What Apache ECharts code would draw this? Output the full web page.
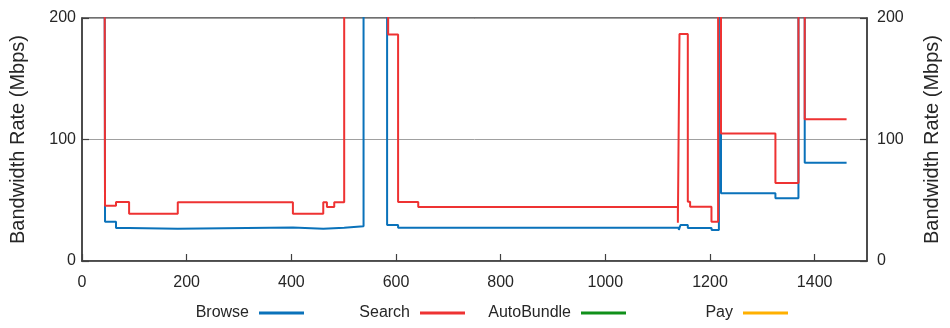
<!DOCTYPE html>
<html>
<head>
<meta charset="utf-8">
<script src="https://cdn.jsdelivr.net/npm/echarts@6/dist/echarts.min.js"></script>
<style>
  html, body { margin: 0; padding: 0; background: #fff; }
  #chart { width: 950px; height: 328px; }
</style>
</head>
<body>
<div id="chart"></div>
<script>
// Bandwidth traces: each point (time, rate) holds until the next time stamp.
// Rates above the 200 Mbps axis ceiling run off the top of the plot.
const browseTime = [43, 44, 65, 90, 183, 403, 461, 501, 538, 583, 604, 1140.5, 1143.6, 1157.6, 1203, 1217, 1221, 1325, 1369, 1381, 1461];
const browseRate = [300, 32.3, 27.2, 26.6, 27.5, 26.6, 27.4, 28.5, 300, 29.6, 27.4, 25.5, 29.6, 27.2, 25.5, 300, 55.7, 51.6, 300, 80.9, 80.9];

const searchTime = [43, 44, 65, 90, 183, 403, 461, 468, 482, 501, 585, 604, 642.5, 1138.6, 1141.7, 1157.6, 1162, 1202.8, 1215.5, 1221, 1325, 1369, 1381, 1461];
const searchRate = [300, 45.5, 48.6, 38.9, 48.4, 38.9, 48.4, 44.4, 48.4, 300, 186.5, 48.6, 44.4, 31.5, 186.8, 48.8, 44.7, 32.4, 300, 105, 64.2, 300, 116.6, 116.6];

const autoBundleTime = [];
const autoBundleRate = [];
const payTime = [];
const payRate = [];

const seriesNames = ['Browse', 'Search', 'AutoBundle', 'Pay'];
const seriesColors = ['#0a72ba', '#ee3232', '#10901a', '#ffb000'];

const xTicks = { min: 0, max: 1500, interval: 200 };
const yTicks = { min: 0, max: 200, interval: 100 };

const pair = (t, v) => t.map((x, i) => [x, v[i]]);
const traces = [
  pair(browseTime, browseRate),
  pair(searchTime, searchRate),
  pair(autoBundleTime, autoBundleRate),
  pair(payTime, payRate)
];

const FONT = "'Liberation Sans', Arial, Helvetica, sans-serif";
const AXIS_COLOR = '#404040';
const TEXT_COLOR = '#262626';
const plainNumber = v => String(v);

const yAxisBase = {
  type: 'value',
  min: yTicks.min, max: yTicks.max, interval: yTicks.interval,
  name: 'Bandwidth Rate (Mbps)',
  nameLocation: 'middle',
  nameTextStyle: { fontFamily: FONT, fontSize: 20, color: TEXT_COLOR },
  axisLine: { show: true, lineStyle: { color: AXIS_COLOR, width: 1.5 } },
  axisTick: { show: true, inside: true, length: 7, lineStyle: { color: AXIS_COLOR, width: 1.2 } },
  axisLabel: { fontFamily: FONT, fontSize: 16, color: TEXT_COLOR, formatter: plainNumber }
};

// One legend per entry so every item sits in its own fixed-width column
const legendRightEdges = [304, 465, 626, 788];
const legends = seriesNames.map((name, i) => ({
  data: [name],
  right: 950 - legendRightEdges[i],
  top: 305,
  padding: 0,
  align: 'right',
  icon: 'rect',
  itemWidth: 45,
  itemHeight: 3,
  selectedMode: false,
  textStyle: { fontFamily: FONT, fontSize: 16, color: TEXT_COLOR, padding: [0, 5, 0, 0] }
}));

const option = {
  animation: false,
  backgroundColor: '#fff',
  grid: {
    left: 82, right: 83, top: 18, bottom: 67,
    show: true, borderColor: AXIS_COLOR, borderWidth: 1.5, backgroundColor: 'transparent'
  },
  legend: legends,
  xAxis: {
    type: 'value',
    min: xTicks.min, max: xTicks.max, interval: xTicks.interval,
    axisLine: { show: true, lineStyle: { color: AXIS_COLOR, width: 1.5 } },
    axisTick: { show: true, inside: true, length: 7, lineStyle: { color: AXIS_COLOR, width: 1.2 } },
    axisLabel: { fontFamily: FONT, fontSize: 16, color: TEXT_COLOR, margin: 14, showMaxLabel: false, formatter: plainNumber },
    splitLine: { show: false }
  },
  yAxis: [
    Object.assign({}, yAxisBase, {
      position: 'left',
      nameGap: 54,
      axisLabel: Object.assign({}, yAxisBase.axisLabel, { margin: 6 }),
      splitLine: { show: true, lineStyle: { color: '#a0a0a0', width: 1 } }
    }),
    Object.assign({}, yAxisBase, {
      position: 'right',
      nameGap: 55,
      axisLabel: Object.assign({}, yAxisBase.axisLabel, { margin: 10 }),
      splitLine: { show: false }
    })
  ],
  series: seriesNames.map((name, i) => ({
    name,
    type: 'line',
    step: 'end',
    data: traces[i],
    color: seriesColors[i],
    showSymbol: false,
    symbol: 'none',
    clip: true,
    lineStyle: { width: 2, color: seriesColors[i] }
  }))
};

const chart = echarts.init(document.getElementById('chart'), null, { renderer: 'canvas' });
chart.setOption(option);
</script>
</body>
</html>
